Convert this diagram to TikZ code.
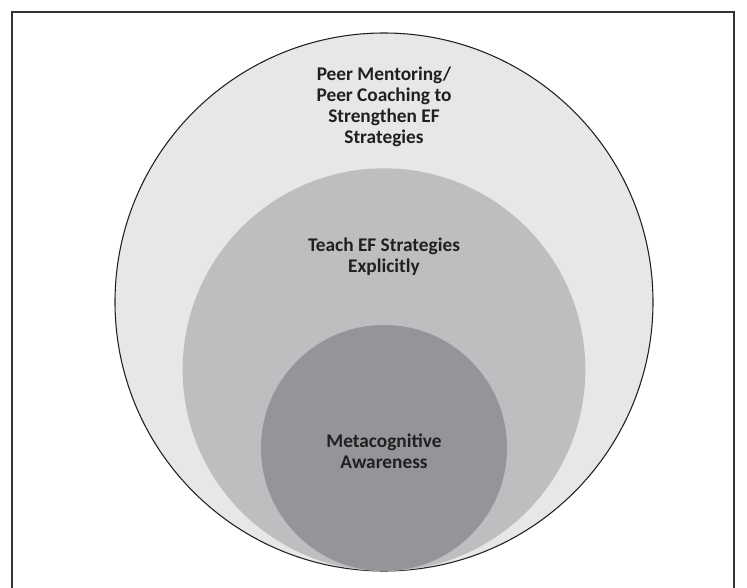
\documentclass[tikz,border=0pt]{standalone}
\usepackage{fontspec}
\setmainfont{Carlito}
\usepackage{xcolor}
\usepackage{tikz}
\usetikzlibrary{positioning}
\definecolor{ringlight}{HTML}{E6E7E8}
\definecolor{ringmid}{HTML}{BCBEC0}
\definecolor{ringdark}{HTML}{939598}
\definecolor{inkdark}{HTML}{231F20}
\tikzset{
    disc/.style = {circle, inner sep=0pt, outer sep=0pt},
    outer_disc/.style = {disc, fill=ringlight, draw=inkdark, line width=0.8pt, minimum size=403.5pt},
    mid_disc/.style = {disc, fill=ringmid, minimum size=302pt},
    inner_disc/.style = {disc, fill=ringdark, minimum size=184.5pt},
    lbl/.style = {align=center, inner sep=0pt, text=inkdark, font=\fontsize{14.5}{15.8}\selectfont\bfseries}
}
\begin{document}
\begin{tikzpicture}
            [x=0.75pt, y=-0.75pt]
            \useasboundingbox (0,0) rectangle (747,588);
            \draw [line width=2pt, draw=black!80] (12,590) -- (12,12) -- (734,12) -- (734,590);

            \node [outer_disc] (peer) at (384,302) {};
            \node [mid_disc, anchor=south] (teach) at (peer.south) {};
            \node [inner_disc, anchor=south] (meta) at (peer.south) {};

            \node [lbl, below=55.5pt of peer.north, anchor=center] (peertext)
                {Peer Mentoring/\\Peer Coaching to\\Strengthen EF\\Strategies};
            \node [lbl, below=66.4pt of teach.north, anchor=center] (teachtext)
                {Teach EF Strategies\\Explicitly};
            \node [lbl, below=94.9pt of meta.north, anchor=center] (metatext)
                {Metacognitive\\Awareness};
        \end{tikzpicture}
\end{document}
